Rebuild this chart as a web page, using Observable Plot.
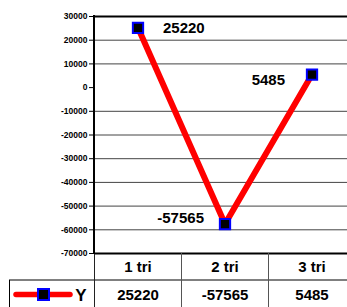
<!DOCTYPE html>
<html>
<head>
<meta charset="utf-8">
<script src="https://cdn.jsdelivr.net/npm/d3@7"></script>
<script src="https://cdn.jsdelivr.net/npm/@observablehq/plot@0.6"></script>
<style>
  html, body { margin: 0; padding: 0; background: #fff; }
  #chart svg { display: block; }
  #chart svg text { font-weight: bold; fill: #000; }
</style>
</head>
<body>
<div id="chart"></div>
<script>
const categories = ["1 tri", "2 tri", "3 tri"];
const values = [25220, -57565, 5485];
const seriesName = "Y";
const yTicks = [30000, 20000, 10000, 0, -10000, -20000, -30000, -40000, -50000, -60000, -70000];

const data = categories.map((c, i) => ({cat: c, value: values[i]}));
const gridTicks = yTicks.filter(t => t !== 0 && t !== 30000 && t !== -70000);

const W = 347, H = 307;
const mLeft = 94, mTop = 16, mBottom = 54;
const bandW = 87;
const rowH = 27;
const font = "'Liberation Sans', Arial, Helvetica, sans-serif";

// Table grid lines and legend key, drawn from the plot's scales
function tableMark(index, {x, y}) {
  const g = d3.create("svg:g");
  const yb = y(-70000);
  const yr = yb + rowH;
  const yEnd = H;
  const legendLeft = 9;
  g.append("line").attr("x1", legendLeft).attr("x2", W).attr("y1", yr).attr("y2", yr)
    .attr("stroke", "#000").attr("stroke-width", 1);
  g.append("line").attr("x1", legendLeft + 0.5).attr("x2", legendLeft + 0.5).attr("y1", yr).attr("y2", yEnd)
    .attr("stroke", "#000").attr("stroke-width", 1);
  categories.forEach((c, i) => {
    const xx = Math.round(x(c)) + 0.5;
    g.append("line").attr("x1", xx).attr("x2", xx).attr("y1", yb).attr("y2", yEnd)
      .attr("stroke", i === 0 ? "#222" : "#555").attr("stroke-width", 1);
  });
  const ly = yr + (yEnd - yr) / 2 + 1;
  g.append("line").attr("x1", 16).attr("x2", 70).attr("y1", ly).attr("y2", ly)
    .attr("stroke", "red").attr("stroke-width", 5.5).attr("stroke-linecap", "round");
  g.append("rect").attr("x", 38).attr("y", ly - 5.5).attr("width", 11).attr("height", 11)
    .attr("fill", "#000").attr("stroke", "blue").attr("stroke-width", 2);
  g.append("text").attr("x", 81).attr("y", ly).attr("text-anchor", "middle")
    .attr("dy", "0.36em").attr("font-size", 17).attr("font-weight", "bold")
    .attr("font-family", font).text(seriesName);
  return g.node();
}

const plot = Plot.plot({
  width: W,
  height: H,
  marginLeft: mLeft,
  marginTop: mTop,
  marginBottom: mBottom,
  marginRight: 0,
  style: {fontFamily: font, background: "#fff", color: "#000"},
  x: {type: "band", domain: categories, range: [mLeft, mLeft + 3 * bandW], padding: 0, axis: null},
  y: {domain: [-70000, 30000], label: null},
  marks: [
    Plot.ruleY(gridTicks, {stroke: "#444", strokeWidth: 1}),
    Plot.ruleY([30000, -70000], {stroke: "#000", strokeWidth: 2}),
    Plot.axisY({ticks: yTicks, tickFormat: d => String(d), tickSize: 5, tickPadding: 2,
      fontSize: 8.5, fontWeight: "bold", label: null, stroke: "#000"}),
    tableMark,
    Plot.line(data, {x: "cat", y: "value", stroke: "red", strokeWidth: 6}),
    Plot.dot(data, {x: "cat", y: "value", symbol: "square", r: 5.8, fill: "#000", stroke: "blue", strokeWidth: 2}),
    Plot.text(data, {filter: (d, i) => i === 0, x: "cat", y: "value", text: d => String(d.value),
      textAnchor: "start", dx: 25, dy: 0, fontSize: 15, fontWeight: "bold"}),
    Plot.text(data, {filter: (d, i) => i === 1, x: "cat", y: "value", text: d => String(d.value),
      textAnchor: "end", dx: -21, dy: -6, fontSize: 15, fontWeight: "bold"}),
    Plot.text(data, {filter: (d, i) => i === 2, x: "cat", y: "value", text: d => String(d.value),
      textAnchor: "end", dx: -27, dy: 6, fontSize: 15, fontWeight: "bold"}),
    Plot.text(categories, {x: d => d, frameAnchor: "bottom", dy: 14, text: d => d,
      fontSize: 15, fontWeight: "bold", lineAnchor: "middle"}),
    Plot.text(data, {x: "cat", frameAnchor: "bottom", dy: 42, text: d => String(d.value),
      fontSize: 15, fontWeight: "bold", lineAnchor: "middle"})
  ]
});

document.getElementById("chart").append(plot);

// left axis line placed with the plot's own scales
const xs = plot.scale("x"), ys = plot.scale("y");
const ax = Math.round(xs.apply(categories[0]));
d3.select(plot).append("line")
  .attr("x1", ax).attr("x2", ax)
  .attr("y1", ys.apply(30000) - 1).attr("y2", ys.apply(-70000) + 1)
  .attr("stroke", "#000").attr("stroke-width", 2);
</script>
</body>
</html>
